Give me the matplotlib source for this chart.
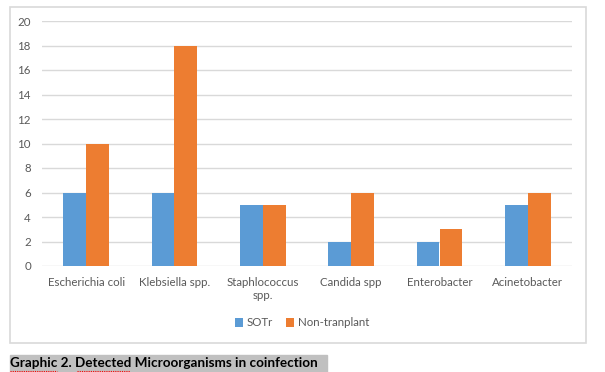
import matplotlib
matplotlib.use("Agg")
import matplotlib.pyplot as plt
import numpy as np
from matplotlib.patches import Rectangle

categorias = ["Escherichia coli", "Klebsiella spp.", "Staphlococcus\nspp.",
              "Candida spp", "Enterobacter", "Acinetobacter"]
sotr = [6, 6, 5, 2, 2, 5]
no_trasplante = [10, 18, 5, 6, 3, 6]
series = ["SOTr", "Non-tranplant"]

azul = "#5B9BD5"
naranja = "#ED7D31"
gris_txt = "#595959"
gris_linea = "#D9D9D9"

plt.rcParams["font.family"] = ["Lato", "DejaVu Sans"]

fig = plt.figure(figsize=(6.05, 3.72), dpi=100)
W, H = 605, 372

# marco del grafico
fig.patches.append(Rectangle((10 / W, 1 - 343 / H), 576 / W, 336 / H,
                             transform=fig.transFigure, fill=False,
                             edgecolor=gris_linea, linewidth=1.2))

ax = fig.add_axes([42 / W, 1 - 266 / H, 530 / W, 245 / H])

x = np.arange(len(categorias))
ancho = 0.26
ax.bar(x - ancho / 2, sotr, ancho, color=azul, label=series[0], zorder=3)
ax.bar(x + ancho / 2, no_trasplante, ancho, color=naranja, label=series[1], zorder=3)

ax.set_xlim(-0.5, len(categorias) - 0.5)
ax.set_ylim(0, 20)
ax.set_yticks(range(0, 21, 2))
ax.yaxis.grid(True, color=gris_linea, linewidth=1, zorder=0)
for s in ax.spines.values():
    s.set_visible(False)
ax.tick_params(length=0, colors=gris_txt, labelsize=8.3)
ax.tick_params(axis="y", pad=8)
ax.tick_params(axis="x", pad=8)
ax.set_xticks(x)
ax.set_xticklabels(categorias, color=gris_txt)

ax.legend(loc="center", bbox_to_anchor=(302 / W, 1 - 323 / H),
          bbox_transform=fig.transFigure, ncol=2, frameon=False,
          fontsize=8.3, labelcolor=gris_txt, handlelength=0.7,
          handleheight=0.7, handletextpad=0.3, columnspacing=1.2)

# titulo abajo con fondo gris
fig.patches.append(Rectangle((10 / W, 0), 317 / W, 17 / H,
                             transform=fig.transFigure, color="#C0C0C0"))
fig.text(10 / W, 1 - 363 / H, "Graphic 2. Detected Microorganisms in coinfection",
         fontsize=9.7, fontweight="bold", color="black", va="center")
# subrayado rojo de ortografia
for x0, x1 in [(10, 57), (77, 130)]:
    fig.lines.append(plt.Line2D([x0 / W, x1 / W], [1 - 370.5 / H] * 2,
                                transform=fig.transFigure, color="red",
                                linewidth=0.8, linestyle=(0, (1, 1))))

fig.savefig("out.png", dpi=100)
